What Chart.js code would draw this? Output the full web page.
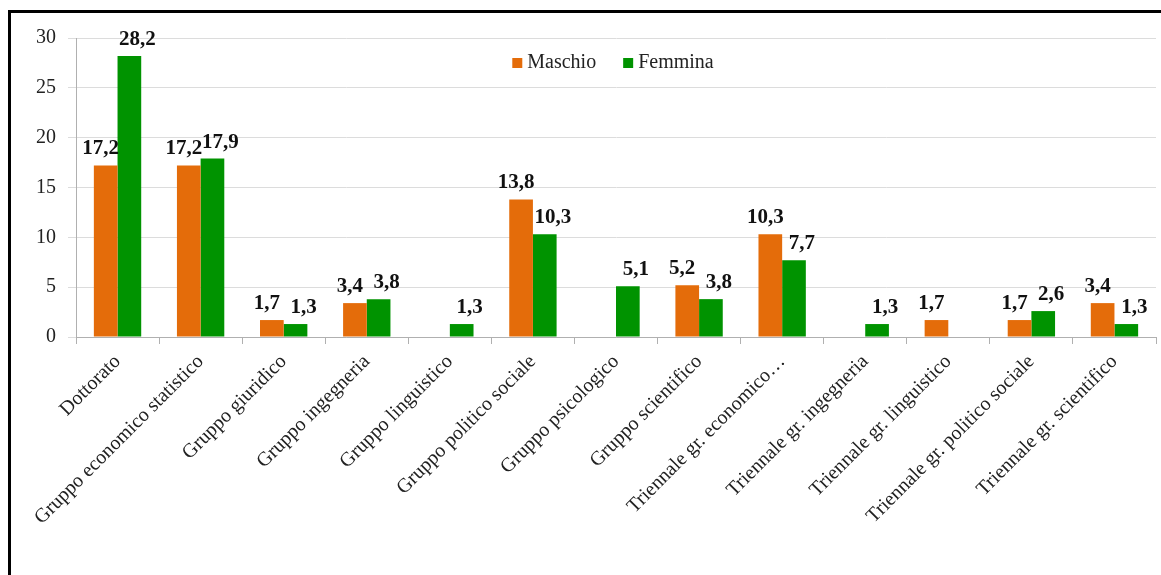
<!DOCTYPE html>
<html>
<head>
<meta charset="utf-8">
<script src="https://cdn.jsdelivr.net/npm/chart.js@4"></script>
<style>
  body { margin: 0; background: #fff; }
  #wrap { position: relative; width: 1161px; height: 575px; overflow: hidden; }
  #frame { position: absolute; left: 8px; top: 10px; width: 1200px; height: 600px;
           border-top: 3px solid #000; border-left: 3px solid #000; pointer-events: none; }
  canvas { position: absolute; left: 0; top: 0; }
</style>
</head>
<body>
<div id="wrap">
  <canvas id="eduChart" width="1161" height="575"></canvas>
  <div id="frame"></div>
</div>
<script>
/*====================================
        Maschio / Femmina per gruppo
====================================*/

const categories = [
    "Dottorato",
    "Gruppo economico statistico",
    "Gruppo giuridico",
    "Gruppo ingegneria",
    "Gruppo linguistico",
    "Gruppo politico sociale",
    "Gruppo psicologico",
    "Gruppo scientifico",
    "Triennale gr. economico\u2026",
    "Triennale gr. ingegneria",
    "Triennale gr. linguistico",
    "Triennale gr. politico sociale",
    "Triennale gr. scientifico"
];

const maschio = [17.2, 17.2, 1.7, 3.4, null, 13.8, null, 5.2, 10.3, null, 1.7, 1.7, 3.4];
const femmina = [28.2, 17.9, 1.3, 3.8, 1.3, 10.3, 5.1, 3.8, 7.7, 1.3, null, 2.6, 1.3];

const yTicks = [0, 5, 10, 15, 20, 25, 30];

const ORANGE = "#e46c0a";
const GREEN = "#009300";
const SERIF = "'Liberation Serif', 'Times New Roman', serif";

// value labels above each bar, comma decimals like the original
const valueLabels = {
    id: "valueLabels",
    afterDatasetsDraw(chart) {
        const ctx = chart.ctx;
        ctx.save();
        ctx.font = "bold 21px " + SERIF;
        ctx.fillStyle = "#111";
        ctx.textAlign = "center";
        ctx.textBaseline = "bottom";
        chart.data.datasets.forEach((ds, i) => {
            const meta = chart.getDatasetMeta(i);
            const shift = i === 0 ? -5 : 8;
            meta.data.forEach((bar, j) => {
                const v = ds.data[j];
                if (v === null || v === undefined) return;
                ctx.fillText(v.toFixed(1).replace(".", ","), bar.x + shift, bar.y - 6);
            });
        });
        ctx.restore();
    }
};

// legend inside the plot, centred near the top
const innerLegend = {
    id: "innerLegend",
    afterDraw(chart) {
        const ctx = chart.ctx;
        const area = chart.chartArea;
        const box = 10, gap = 5, spacing = 27;
        ctx.save();
        ctx.font = "20px " + SERIF;
        ctx.textBaseline = "middle";
        const items = chart.data.datasets.map(ds => ({
            text: ds.label, color: ds.backgroundColor, w: ctx.measureText(ds.label).width
        }));
        let total = items.reduce((s, it) => s + box + gap + it.w, 0) + spacing * (items.length - 1);
        let x = (area.left + area.right) / 2 - total / 2 - 3;
        const y = 63;
        items.forEach(it => {
            ctx.fillStyle = it.color;
            ctx.fillRect(x, y - 5, box, box);
            x += box + gap;
            ctx.fillStyle = "#222";
            ctx.fillText(it.text, x, y);
            x += it.w + spacing;
        });
        ctx.restore();
    }
};

new Chart(document.getElementById("eduChart"), {

    type: "bar",

    data: {
        labels: categories,
        datasets: [
            { label: "Maschio", data: maschio, backgroundColor: ORANGE },
            { label: "Femmina", data: femmina, backgroundColor: GREEN }
        ]
    },

    options: {
        responsive: false,
        animation: false,
        layout: { padding: { left: 0, right: 5, top: 38, bottom: 0 } },
        datasets: {
            bar: { categoryPercentage: 0.57, barPercentage: 1.0 }
        },
        plugins: {
            tooltip: { enabled: false },
            legend: { display: false }
        },
        scales: {
            x: {
                afterFit(scale) { scale.height = 238; },
                grid: {
                    offset: true,
                    drawOnChartArea: false,
                    color: "#b0b0b0",
                    tickLength: 7
                },
                border: { color: "#b0b0b0" },
                ticks: {
                    minRotation: 45,
                    maxRotation: 45,
                    autoSkip: false,
                    color: "#222",
                    padding: 6,
                    font: { family: SERIF, size: 20 }
                }
            },
            y: {
                min: 0,
                max: 30,
                afterFit(scale) { scale.width = 76; },
                afterBuildTicks(scale) { scale.ticks = yTicks.map(v => ({ value: v })); },
                grid: { color: "#dcdcdc", tickLength: 8 },
                border: { color: "#b0b0b0" },
                ticks: {
                    color: "#222",
                    padding: 12,
                    font: { family: SERIF, size: 20 }
                }
            }
        }
    },

    plugins: [valueLabels, innerLegend]

});
</script>
</body>
</html>
